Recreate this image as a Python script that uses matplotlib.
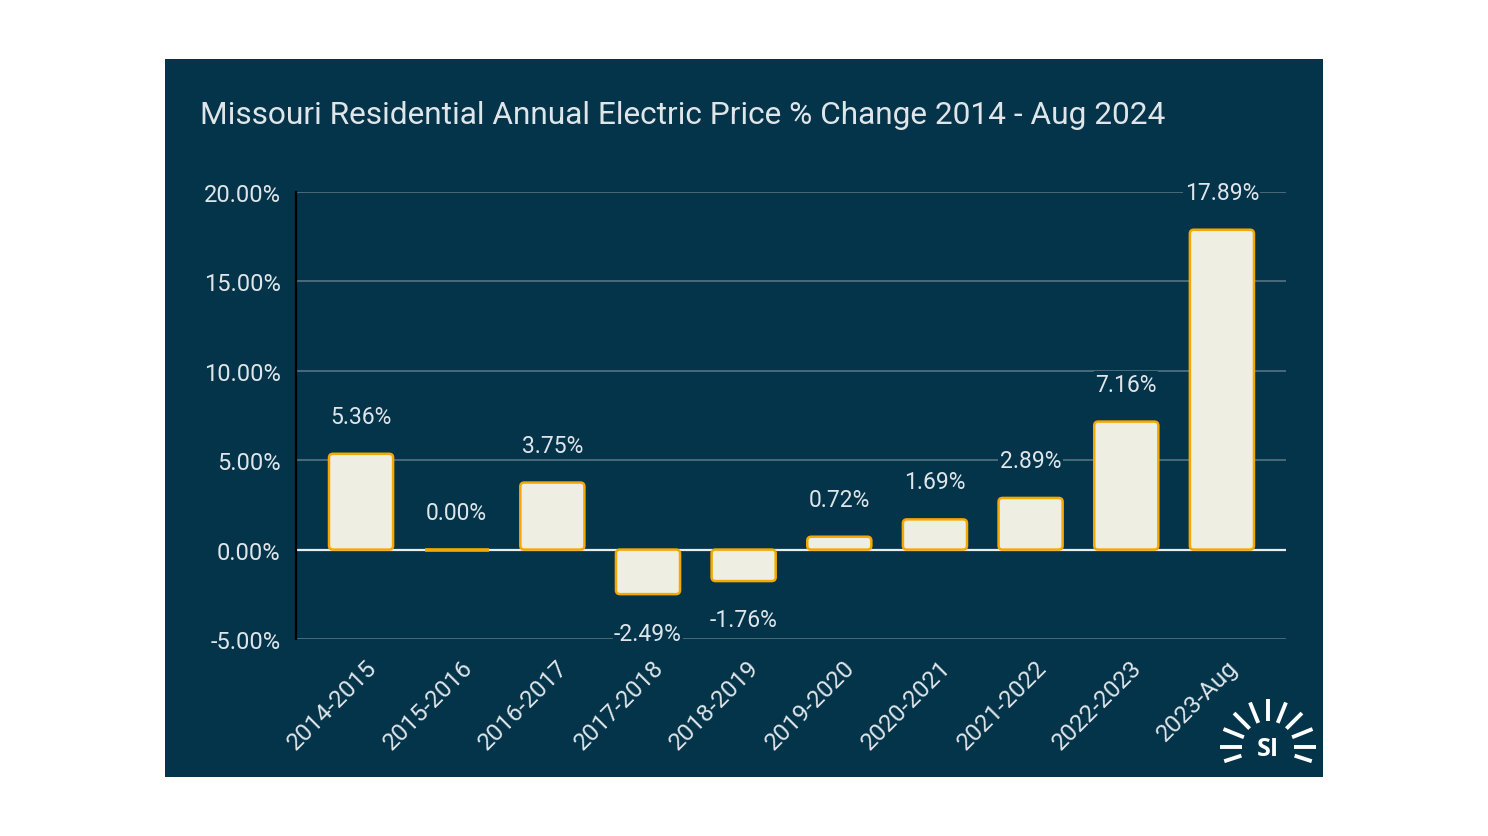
import matplotlib
matplotlib.use("Agg")
import matplotlib.pyplot as plt
import matplotlib.transforms as mtransforms
import numpy as np
from matplotlib.patches import Rectangle, FancyBboxPatch
from matplotlib.lines import Line2D

categories = ["2014-2015", "2015-2016", "2016-2017", "2017-2018", "2018-2019",
              "2019-2020", "2020-2021", "2021-2022", "2022-2023", "2023-Aug"]
values = [5.36, 0.00, 3.75, -2.49, -1.76, 0.72, 1.69, 2.89, 7.16, 17.89]
yticks = [-5, 0, 5, 10, 15, 20]
title = "Missouri Residential Annual Electric Price % Change 2014 - Aug 2024"

W, H = 1488, 837
BG = "#03344a"
TXT = "#dfe5e8"
fig = plt.figure(figsize=(W / 100, H / 100), dpi=100, facecolor="white")

def fx(x): return x / W
def fy(y): return 1 - y / H

fig.patches.append(Rectangle((fx(165), fy(778)), fx(1323) - fx(165), fy(60) - fy(778),
                             transform=fig.transFigure, facecolor=BG, edgecolor="none", zorder=-10))

fig.text(fx(200), fy(115), title, color=TXT, fontsize=22.8, family="Roboto",
         ha="left", va="center")

ax = fig.add_axes([fx(296), fy(640), fx(1286) - fx(296), fy(193) - fy(640)])
ax.set_zorder(5)
ax.set_facecolor("none")
x = np.arange(len(categories))
ax.set_xlim(-0.68, len(categories) - 0.33)
ax.set_ylim(-5, 20)
for t in yticks:
    if t == 0:
        continue
    ax.axhline(t, color="#4f6e7c", lw=1.3, zorder=1)
ax.axhline(0, color="#e8eef0", lw=1.6, zorder=1)

bars = ax.bar(x, values, width=0.67, color="#eeefe2", edgecolor="#f5a800", linewidth=1.8, zorder=3)
# rounded corners
px_x = (1286 - 296) / (len(categories) - 0.33 + 0.68)
px_y = (640 - 193) / 25.0
for b, v in zip(bars, values):
    if v == 0:
        b.set_linewidth(2.6)
        continue
    bx, by, bw, bh = b.get_x(), b.get_y(), b.get_width(), b.get_height()
    if bh < 0:
        by, bh = by + bh, -bh
    fp = FancyBboxPatch((bx, by), bw, bh, boxstyle="round,pad=0,rounding_size=%f" % (4 / px_x),
                        mutation_aspect=px_x / px_y, facecolor="#eeefe2",
                        edgecolor="#f5a800", linewidth=1.8, zorder=3)
    ax.add_patch(fp)
    b.set_visible(False)

for xi, v in zip(x, values):
    off = -28 if v < 0 else 27
    ax.annotate(f"{v:.2f}%", (xi, v), xytext=(0, off), textcoords="offset points",
                ha="center", va="center", color=TXT, fontsize=16.5, family="Roboto",
                bbox=dict(facecolor=BG, edgecolor="none", pad=1), zorder=4)

ax.set_yticks(yticks)
ax.set_yticklabels([f"{t:.2f}%" for t in yticks], color=TXT, fontsize=17, family="Roboto")
ax.set_xticks(x)
ax.set_xticklabels(categories, rotation=45, ha="right", rotation_mode="anchor",
                   color=TXT, fontsize=17.5, family="Roboto")
ax.tick_params(axis="both", length=0)
ax.tick_params(axis="y", pad=11)
ax.tick_params(axis="x", pad=12)
offset = mtransforms.ScaledTranslation(4 / 100, 0, fig.dpi_scale_trans)
for lab in ax.get_xticklabels():
    lab.set_transform(lab.get_transform() + offset)
for s in ["top", "right", "bottom"]:
    ax.spines[s].set_visible(False)
ax.spines["left"].set_color("#000000")
ax.spines["left"].set_linewidth(1.6)

# logo
cx, cy = 1268, 748
for ang in [180, 158, 135, 112, 90, 68, 45, 22, 0, 198, 342]:
    a = np.deg2rad(ang)
    r0, r1 = 26, 48
    if ang in (198, 342):
        r0, r1 = 28, 46
    xs = [fx(cx + r0 * np.cos(a)), fx(cx + r1 * np.cos(a))]
    ys = [fy(cy - r0 * np.sin(a)), fy(cy - r1 * np.sin(a))]
    fig.add_artist(Line2D(xs, ys, transform=fig.transFigure, color="white", lw=2.8,
                          solid_capstyle="butt"))
fig.text(fx(cx), fy(cy + 2), "SI", color="white", fontsize=18, fontweight="bold",
         family="Open Sans", ha="center", va="center")

fig.savefig("out.png", dpi=100, facecolor="white")
